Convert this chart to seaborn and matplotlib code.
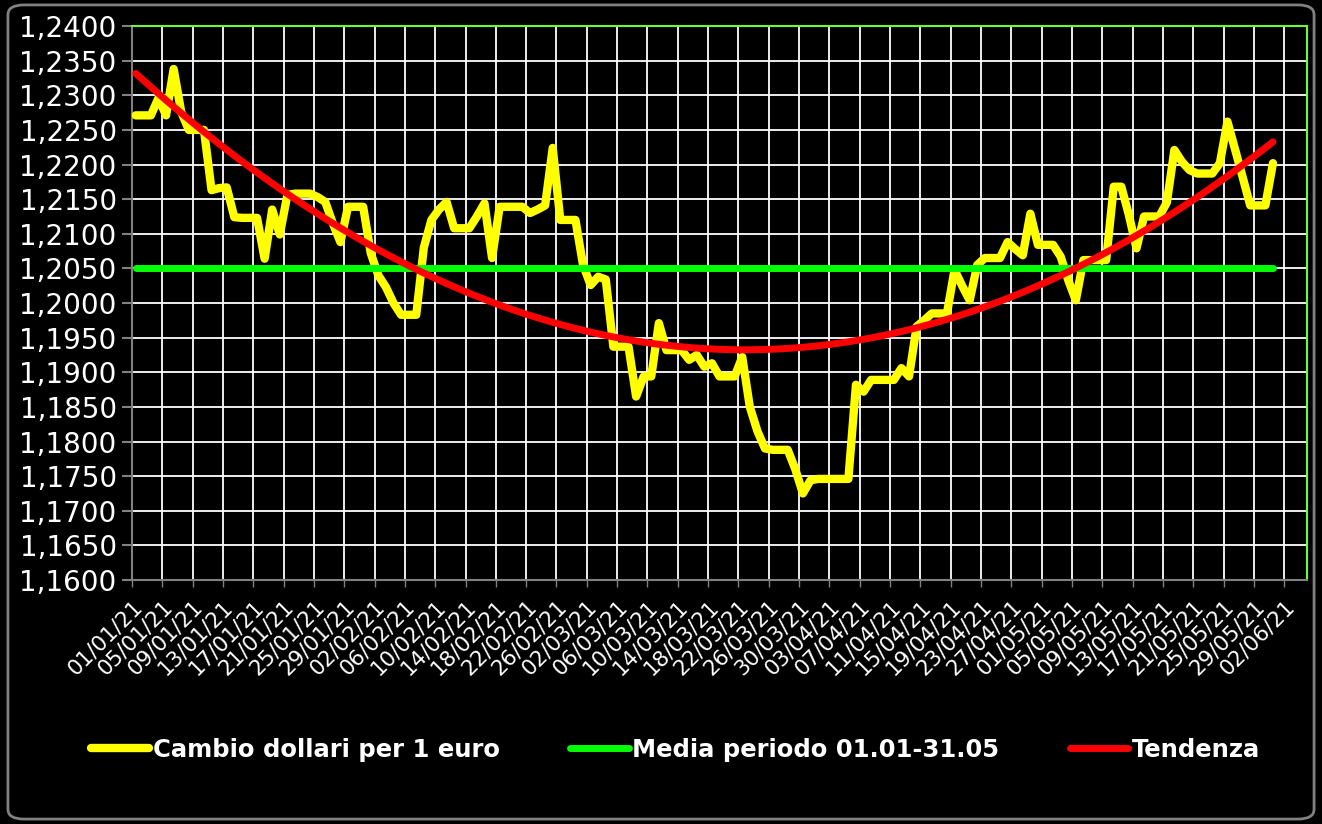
import numpy as np
import pandas as pd
import matplotlib
matplotlib.use("Agg")
import matplotlib.pyplot as plt
import seaborn as sns
from matplotlib.ticker import FuncFormatter, MultipleLocator
from matplotlib.patches import FancyBboxPatch

# ------------------------------------------------------------
# Cambio giornaliero USD per 1 EUR (weekend/festivi = ultimo fixing)
# ------------------------------------------------------------
gennaio = [1.2271, 1.2271, 1.2271, 1.2296, 1.2271, 1.2338, 1.2276, 1.2250,
           1.2250, 1.2250, 1.2163, 1.2166, 1.2167, 1.2124, 1.2123, 1.2123,
           1.2123, 1.2064, 1.2135, 1.2099, 1.2156, 1.2158, 1.2158, 1.2158,
           1.2153, 1.2146, 1.2115, 1.2088, 1.2139, 1.2139, 1.2139]
febbraio = [1.2072, 1.2040, 1.2023, 1.2000, 1.1983, 1.1983, 1.1983, 1.2080,
            1.2120, 1.2135, 1.2146, 1.2108, 1.2108, 1.2108, 1.2125, 1.2144,
            1.2065, 1.2139, 1.2139, 1.2139, 1.2139, 1.2130, 1.2135, 1.2141,
            1.2224, 1.2120, 1.2120, 1.2120]
marzo = [1.2055, 1.2026, 1.2038, 1.2034, 1.1937, 1.1937, 1.1937, 1.1865,
         1.1894, 1.1894, 1.1971, 1.1932, 1.1932, 1.1932, 1.1918, 1.1925,
         1.1908, 1.1913, 1.1894, 1.1894, 1.1894, 1.1922, 1.1850, 1.1815,
         1.1790, 1.1788, 1.1788, 1.1788, 1.1760, 1.1725, 1.1744]
aprile = [1.1746, 1.1746, 1.1746, 1.1746, 1.1746, 1.1882, 1.1872, 1.1889,
          1.1889, 1.1889, 1.1889, 1.1906, 1.1894, 1.1966, 1.1975, 1.1985,
          1.1985, 1.1985, 1.2048, 1.2025, 1.2004, 1.2055, 1.2065, 1.2065,
          1.2065, 1.2088, 1.2078, 1.2069, 1.2129, 1.2084]
maggio = [1.2084, 1.2084, 1.2067, 1.2033, 1.2004, 1.2062, 1.2062, 1.2062,
          1.2062, 1.2168, 1.2168, 1.2127, 1.2079, 1.2125, 1.2125, 1.2125,
          1.2145, 1.2221, 1.2204, 1.2192, 1.2187, 1.2187, 1.2187, 1.2202,
          1.2262, 1.2222, 1.2182, 1.2141, 1.2141, 1.2141, 1.2202]

media_periodo = 1.2050

etichette_x = ["01/01/21", "05/01/21", "09/01/21", "13/01/21", "17/01/21",
               "21/01/21", "25/01/21", "29/01/21", "02/02/21", "06/02/21",
               "10/02/21", "14/02/21", "18/02/21", "22/02/21", "26/02/21",
               "02/03/21", "06/03/21", "10/03/21", "14/03/21", "18/03/21",
               "22/03/21", "26/03/21", "30/03/21", "03/04/21", "07/04/21",
               "11/04/21", "15/04/21", "19/04/21", "23/04/21", "27/04/21",
               "01/05/21", "05/05/21", "09/05/21", "13/05/21", "17/05/21",
               "21/05/21", "25/05/21", "29/05/21", "02/06/21"]

# ------------------------------------------------------------
# DataFrame
# ------------------------------------------------------------
cambio = gennaio + febbraio + marzo + aprile + maggio
df = pd.DataFrame({"cambio": cambio})
df["x"] = np.arange(len(df)) + 0.5          # punto al centro del giorno
df["media"] = media_periodo

# ------------------------------------------------------------
# Plot
# ------------------------------------------------------------
sns.set_theme(style="ticks")
plt.rcParams["font.family"] = ["DejaVu Sans"]

fig = plt.figure(figsize=(13.22, 8.24), dpi=100, facecolor="black")
ax = fig.add_axes([0.0998, 0.2961, 0.8889, 0.6723])
ax.set_facecolor("black")

sns.lineplot(data=df, x="x", y="cambio", ax=ax, color="#ffff00", lw=6,
             solid_capstyle="round", solid_joinstyle="round",
             label="Cambio dollari per 1 euro", zorder=3)
sns.lineplot(data=df, x="x", y="media", ax=ax, color="#00ff00", lw=5,
             solid_capstyle="round", label="Media periodo 01.01-31.05",
             zorder=4)
sns.regplot(data=df, x="x", y="cambio", order=2, ci=None, scatter=False,
            ax=ax, line_kws=dict(color="#ff0000", lw=5,
                                 solid_capstyle="round", zorder=5))
ax.lines[-1].set_label("Tendenza")

# assi
ax.set_xlim(0, 155)
ax.set_ylim(1.16, 1.24)
ax.set_xticks(np.arange(0, 4 * len(etichette_x), 4))
ax.set_xticklabels(etichette_x, rotation=45, ha="right",
                   rotation_mode="anchor")
ax.yaxis.set_major_locator(MultipleLocator(0.005))
ax.yaxis.set_major_formatter(
    FuncFormatter(lambda v, p: f"{v:.4f}".replace(".", ",")))
ax.set_xlabel("")
ax.set_ylabel("")

ax.grid(True, color="white", lw=1.3)
ax.set_axisbelow(True)

for s in ["left", "bottom"]:
    ax.spines[s].set_color("#808080")
    ax.spines[s].set_linewidth(1.5)
for s in ["top", "right"]:
    ax.spines[s].set_color("#66ff33")
    ax.spines[s].set_linewidth(1.5)

ax.tick_params(axis="y", colors="#808080", labelcolor="white",
               length=7, width=1.5, labelsize=20, pad=4)
ax.tick_params(axis="x", colors="#808080", labelcolor="white",
               length=5, width=1, labelsize=15.5, pad=7)

# legenda
handles, labels = ax.get_legend_handles_labels()
if ax.get_legend() is not None:
    ax.get_legend().remove()
fig.legend(handles, labels, loc="center", bbox_to_anchor=(0.511, 0.09),
           ncol=3, frameon=False, handlelength=2.4, handletextpad=0.15,
           columnspacing=2.9, prop=dict(weight="bold", size=17.5),
           labelcolor="white")

# bordo esterno
fig.patches.append(FancyBboxPatch((0.006, 0.006), 0.988, 0.988,
                                  boxstyle="round,pad=0,rounding_size=0.012",
                                  transform=fig.transFigure, fill=False,
                                  edgecolor="#808080", lw=2))

fig.savefig("out.png", dpi=100, facecolor="black")
